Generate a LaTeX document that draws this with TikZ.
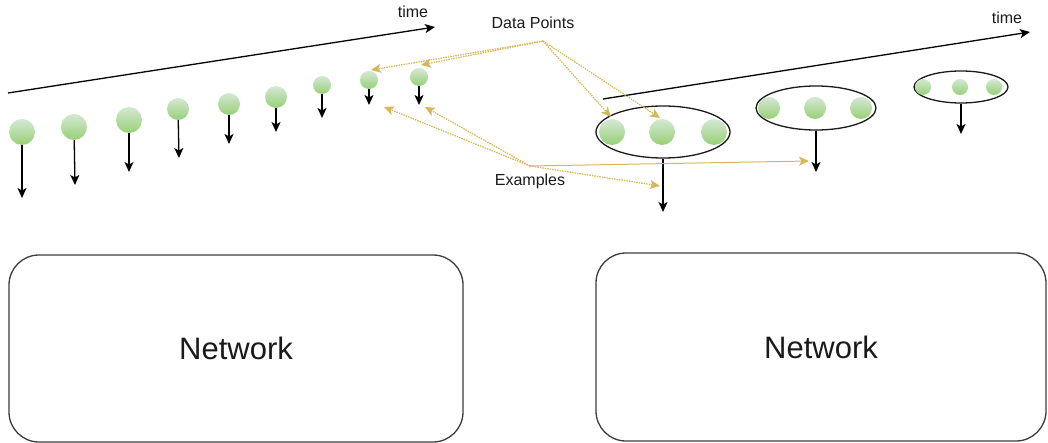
\documentclass[tikz,border=0pt]{standalone}
\usepackage{fontspec}
\setmainfont{Liberation Sans}
\usetikzlibrary{arrows.meta,shapes.geometric}
\definecolor{gold}{HTML}{D6B656}
\definecolor{greenTop}{HTML}{D5E8D4}
\definecolor{greenBot}{HTML}{97D077}
\definecolor{ink}{HTML}{1A1A1A}
\tikzset{
  dot/.style={circle, inner sep=0pt, draw=none, top color=greenTop, bottom color=greenBot},
  arr/.style={draw=black, line width=1.3pt, -{Stealth[length=10pt,width=9pt,inset=2.5pt]}},
  grp/.style={ellipse, draw=ink, line width=1.3pt, fill=white, inner sep=0pt},
  netbox/.style={rectangle, rounded corners=30pt, draw=ink!85, line width=1.3pt, inner sep=0pt,
                 font=\fontsize{31}{37}\selectfont, text=ink},
  lbl/.style={font=\fontsize{16}{19}\selectfont, text=ink, inner sep=1pt},
  hint/.style={draw=gold, line width=1.2pt, dash pattern=on 1.5pt off 1pt,
               -{Stealth[length=10pt,width=9pt,inset=2.5pt]}},
  hintsolid/.style={draw=gold, line width=1pt, -{Stealth[length=10pt,width=9pt,inset=2.5pt]}}
}
\begin{document}
\begin{tikzpicture}[x=1pt,y=-1pt]
\useasboundingbox (0,0) rectangle (1048,443);

% ---- left: single samples along time ----
\coordinate (ta) at (8,93);
\coordinate (tb) at (435,27);
\draw[arr] (ta) -- (tb);
\node[lbl] (timeL) at (413,12) {time};

\node[dot, minimum size=26pt] (c1) at (22,132) {};
\node[dot, minimum size=26pt] (c2) at (74,127) {};
\node[dot, minimum size=26pt] (c3) at (129,120) {};
\node[dot, minimum size=22pt] (c4) at (178,109) {};
\node[dot, minimum size=22pt] (c5) at (229,104) {};
\node[dot, minimum size=22pt] (c6) at (276,97) {};
\node[dot, minimum size=18pt] (c7) at (322,85) {};
\node[dot, minimum size=18pt] (c8) at (369,80) {};
\node[dot, minimum size=18pt] (c9) at (419,77) {};

\coordinate (e1) at (22,198);
\coordinate (e2) at (75,185);
\coordinate (e3) at (129,172);
\coordinate (e4) at (179,158);
\coordinate (e5) at (229,144);
\coordinate (e6) at (276,132);
\coordinate (e7) at (322,118);
\coordinate (e8) at (369,105);
\coordinate (e9) at (419,105);
\foreach \i in {1,...,9} {\draw[arr] (c\i) -- (e\i);}

% ---- right: batches along time ----
\coordinate (tc) at (603,99);
\coordinate (td) at (1030,32);
\draw[arr] (tc) -- (td);
\node[lbl] (timeR) at (1007,18) {time};

\node[grp, minimum width=134pt, minimum height=52pt] (g1) at (663,132) {};
\node[dot, minimum size=26pt] (g1a) at (612,132) {};
\node[dot, minimum size=26pt] (g1b) at (662,132) {};
\node[dot, minimum size=26pt] (g1c) at (714,132) {};

\node[grp, minimum width=120pt, minimum height=44pt] (g2) at (816,108) {};
\node[dot, minimum size=22pt] (g2a) at (769,108) {};
\node[dot, minimum size=22pt] (g2b) at (815,108) {};
\node[dot, minimum size=22pt] (g2c) at (861,108) {};

\node[grp, minimum width=94pt, minimum height=32pt] (g3) at (961,87) {};
\node[dot, minimum size=16pt] (g3a) at (923,87) {};
\node[dot, minimum size=16pt] (g3b) at (960,87) {};
\node[dot, minimum size=16pt] (g3c) at (994,87) {};

\coordinate (f1) at (663,212);
\coordinate (f2) at (816,172);
\coordinate (f3) at (961,134);
\draw[arr] (g1.south) -- (f1);
\draw[arr] (g2.south) -- (f2);
\draw[arr] (g3.south) -- (f3);

% ---- annotations ----
\node[lbl] (dp) at (533,23) {Data Points};
\node[lbl] (ex) at (530,181) {Examples};
\coordinate (dpo) at (543,41);
\coordinate (exo) at (530,166);

\coordinate (dp1) at (371,70);
\coordinate (dp2) at (421,65);
\coordinate (dp3) at (611,117);
\coordinate (dp4) at (660,118);
\foreach \j in {1,...,4} {\draw[hint] (dpo) -- (dp\j);}

\coordinate (ex1) at (384,107);
\coordinate (ex2) at (425,107);
\coordinate (ex3) at (660,186);
\coordinate (ex4) at (809,161);
\draw[hint] (exo) -- (ex1);
\draw[hint] (exo) -- (ex2);
\draw[hint] (exo) -- (ex3);
\draw[hintsolid] (exo) -- (ex4);

% ---- networks ----
\node[netbox, minimum width=454pt, minimum height=187pt] (netL) at (236,348.5) {Network};
\node[netbox, minimum width=450pt, minimum height=188pt] (netR) at (821,347) {Network};
\end{tikzpicture}
\end{document}
